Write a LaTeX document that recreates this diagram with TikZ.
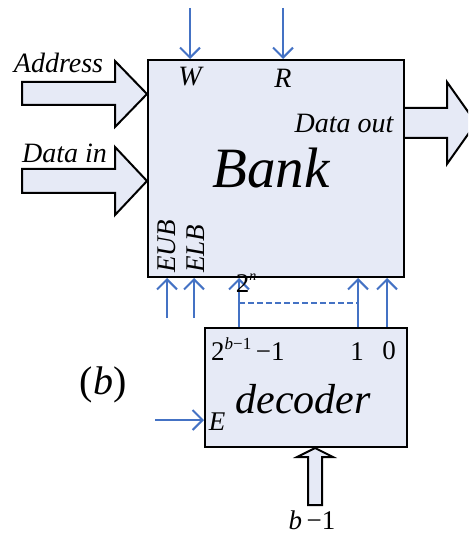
\documentclass[tikz,border=0pt]{standalone}
\usepackage{fontspec}
\setmainfont{Liberation Serif}
\usetikzlibrary{arrows.meta}
\definecolor{boxfill}{RGB}{230,234,246}
\definecolor{sigblue}{RGB}{68,114,196}
\begin{document}
\begin{tikzpicture}[x=1pt,y=-1pt,
  box/.style={draw=black,line width=2pt,fill=boxfill,inner sep=0pt},
  bus/.style={draw=black,line width=2pt,fill=boxfill,line join=miter},
  sig/.style={draw=sigblue,line width=2pt,-{Straight Barb[length=10pt,width=20pt,line width=2pt]}},
  lbl/.style={inner sep=0pt,font=\fontsize{28}{32}\selectfont\itshape},
  num/.style={inner sep=0pt,font=\fontsize{27}{31}\selectfont}]
\clip (0,0) rectangle (468,537);
\useasboundingbox (0,0) rectangle (468,537);

% memory bank and decoder blocks
\node[box,minimum width=256pt,minimum height=217pt] (bank) at (276,168.5) {};
\node[box,minimum width=202pt,minimum height=119pt] (dec) at (306,387.5) {};

% wide bus arrows
\draw[bus] (22,82) -- (115,82) -- (115,61) -- (bank.west |- 0,94) -- (115,127) -- (115,105) -- (22,105) -- cycle;
\draw[bus] (22,169) -- (115,169) -- (115,147) -- (bank.west |- 0,181) -- (115,215) -- (115,193) -- (22,193) -- cycle;
\draw[bus] (bank.east |- 0,108) -- (447,108) -- (447,82) -- (476,123) -- (447,164) -- (447,138) -- (bank.east |- 0,138);
\draw[bus] (308,505) -- (308,457) -- (297,457) -- (dec.south -| 315,0) -- (333,457) -- (322,457) -- (322,505) -- cycle;

% control inputs of the bank
\coordinate (wsrc) at (190,8);
\coordinate (rsrc) at (283,8);
\draw[sig] (wsrc) -- (wsrc |- bank.north);
\draw[sig] (rsrc) -- (rsrc |- bank.north);
\coordinate (eub) at (167,318);
\coordinate (elb) at (194,318);
\draw[sig] (eub) -- (eub |- bank.south);
\draw[sig] (elb) -- (elb |- bank.south);

% decoder outputs
\coordinate (oN) at (239,0);
\coordinate (o1) at (358,0);
\coordinate (o0) at (387,0);
\draw[sig] (oN |- dec.north) -- (oN |- bank.south);
\draw[sig] (o1 |- dec.north) -- (o1 |- bank.south);
\draw[sig] (o0 |- dec.north) -- (o0 |- bank.south);
\draw[sigblue,line width=2pt,dash pattern=on 6pt off 3pt] (oN |- 0,303) -- (o1 |- 0,303);

% decoder enable
\coordinate (en) at (155,420);
\draw[sig] (en) -- (en -| dec.west);

% labels
\node[lbl,anchor=base] (taddr) at (58.5,73) {Address};
\node[lbl,anchor=base] (tdin) at (64.5,163) {Data in};
\node[lbl,anchor=base] (tdout) at (344,133) {Data out};
\node[lbl,anchor=base] (tw) at (190,86) {W};
\node[lbl,anchor=base] (tr) at (283,88) {R};
\node[inner sep=0pt,anchor=base,font=\fontsize{57}{60}\selectfont\itshape] (tbank) at (271,188) {Bank};
\node[inner sep=0pt,font=\fontsize{27}{31}\selectfont\itshape,anchor=base west,rotate=90] (teub) at (175,273) {EUB};
\node[inner sep=0pt,font=\fontsize{27}{31}\selectfont\itshape,anchor=base west,rotate=90] (telb) at (204,273) {ELB};
\node[num,anchor=base] (t2n) at (246,292) {2\raisebox{12pt}{\fontsize{14}{15}\selectfont\itshape n}};
\node[num,anchor=base west] (tN) at (211,360) {2\raisebox{11pt}{\fontsize{17}{19}\selectfont\textit{b}−1}\,−1};
\node[num,anchor=base] (t1) at (357,360) {1};
\node[num,anchor=base] (t0) at (389,359) {0};
\node[inner sep=0pt,anchor=base,font=\fontsize{42}{46}\selectfont\itshape] (tdec) at (303,413) {decoder};
\node[inner sep=0pt,font=\fontsize{27}{31}\selectfont\itshape,anchor=base] (te) at (217,430) {E};
\node[num,anchor=base] (tb1) at (312,529) {\textit{b}\,−1};
\node[inner sep=0pt,anchor=base,font=\fontsize{40}{44}\selectfont] (tb) at (103,394) {(\textit{b})};
\end{tikzpicture}
\end{document}
